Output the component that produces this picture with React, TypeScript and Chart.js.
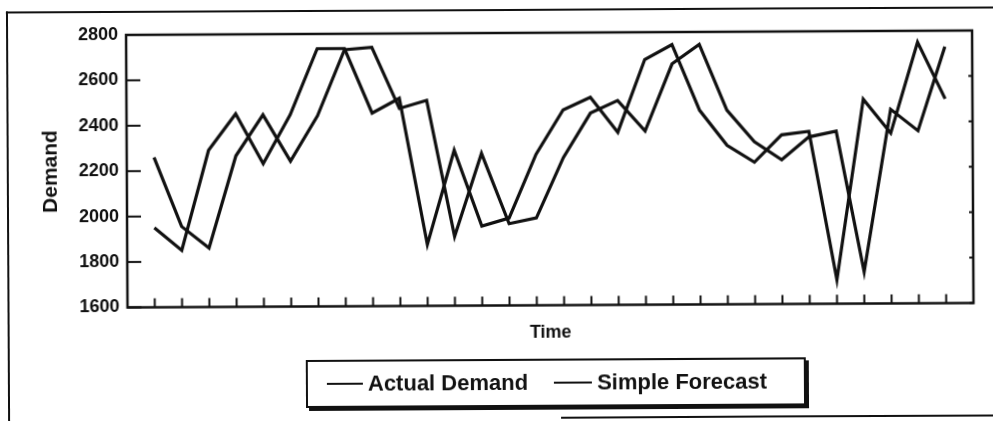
import React, { useEffect, useRef } from "react";
import { Chart, registerables } from "chart.js";

Chart.register(...registerables);

const periods = [1, 2, 3, 4, 5, 6, 7, 8, 9, 10, 11, 12, 13, 14, 15, 16, 17, 18, 19, 20, 21, 22, 23, 24, 25, 26, 27, 28, 29, 30];
const actualDemand = [1950, 1850, 2290, 2450, 2230, 2445, 2735, 2735, 2450, 2515, 1870, 2285, 1950, 1985, 2265, 2460, 2515, 2360, 2680, 2745, 2455, 2300, 2225, 2345, 2360, 1705, 2500, 2350, 2750, 2500];
const simpleForecast = [2260, 1955, 1860, 2265, 2445, 2240, 2440, 2730, 2740, 2470, 2505, 1905, 2270, 1960, 1985, 2250, 2445, 2500, 2365, 2660, 2745, 2455, 2315, 2235, 2335, 2360, 1740, 2455, 2360, 2730];
const yTicks = [1600, 1800, 2000, 2200, 2400, 2600, 2800];
const seriesNames = ["Actual Demand", "Simple Forecast"];

const FONT = "'Liberation Sans', Arial, Helvetica, sans-serif";
const INK = "#111";

const frameAndTicks = {
  id: "frameAndTicks",
  afterDatasetsDraw(chart: any) {
    const { ctx, chartArea, scales } = chart;
    const { left, top, right, bottom } = chartArea;
    const x = scales.x;
    const y = scales.y;
    ctx.save();
    ctx.strokeStyle = INK;
    ctx.lineWidth = 2.5;
    ctx.strokeRect(left, top, right - left, bottom - top);
    ctx.lineWidth = 2;
    periods.forEach((p) => {
      const px = x.getPixelForValue(p);
      ctx.beginPath();
      ctx.moveTo(px, bottom);
      ctx.lineTo(px, bottom - 9);
      ctx.stroke();
    });
    yTicks.forEach((v) => {
      const py = y.getPixelForValue(v);
      ctx.beginPath();
      ctx.moveTo(left, py);
      ctx.lineTo(left + 14, py);
      ctx.stroke();
      ctx.beginPath();
      ctx.moveTo(right, py);
      ctx.lineTo(right - 4, py);
      ctx.stroke();
    });
    ctx.restore();
  },
};

export default function App() {
  const canvasRef = useRef<HTMLCanvasElement | null>(null);

  useEffect(() => {
    if (!canvasRef.current) return;
    const lineStyle = {
      borderColor: INK,
      borderWidth: 3.2,
      pointRadius: 0,
      tension: 0,
      borderJoinStyle: "miter" as const,
      fill: false,
    };
    const chart = new Chart(canvasRef.current, {
      type: "line",
      data: {
        datasets: [
          { label: seriesNames[0], data: periods.map((p, i) => ({ x: p, y: actualDemand[i] })), ...lineStyle },
          { label: seriesNames[1], data: periods.map((p, i) => ({ x: p, y: simpleForecast[i] })), ...lineStyle },
        ],
      },
      options: {
        responsive: false,
        animation: false,
        events: [],
        layout: { padding: { left: 20, top: 33, right: 20, bottom: 75.5 } },
        plugins: {
          legend: { display: false },
          tooltip: { enabled: false },
        },
        scales: {
          x: {
            type: "linear",
            min: 0,
            max: 31,
            grid: { display: false, drawTicks: false },
            border: { display: false },
            ticks: { display: false },
            title: {
              display: true,
              text: "Time",
              color: INK,
              font: { family: FONT, size: 18, weight: "bold" },
              padding: { top: 0, bottom: 2 },
            },
            afterFit: (scale: any) => {
              scale.height = 40;
            },
          },
          y: {
            min: 1600,
            max: 2800,
            afterBuildTicks: (scale: any) => {
              scale.ticks = yTicks.map((v) => ({ value: v }));
            },
            grid: { display: false, drawTicks: false },
            border: { display: false },
            ticks: {
              color: INK,
              padding: 8,
              font: { family: FONT, size: 18, weight: "bold" },
              callback: (v: any) => String(v),
            },
            title: {
              display: true,
              text: "Demand",
              color: INK,
              font: { family: FONT, size: 21, weight: "bold" },
              padding: { top: 19, bottom: 0 },
            },
            afterFit: (scale: any) => {
              scale.width = 107;
            },
          },
        },
      },
      plugins: [frameAndTicks],
    });
    return () => chart.destroy();
  }, []);

  const sample = (w: number, gapAfter: number) => (
    <div style={{ width: w, height: 2, background: INK, marginRight: gapAfter, flex: "none" }} />
  );

  return (
    <div style={{ position: "fixed", left: 0, top: 0, width: 993, height: 421, background: "#fff", overflow: "hidden" }}>
      <div style={{ position: "absolute", left: 0, top: 0, width: 993, height: 421, transform: "rotate(-0.3deg)", transformOrigin: "496px 210px" }}>
        <div style={{ position: "absolute", left: 7, top: 9, width: 1100, height: 430, borderLeft: `2px solid ${INK}`, borderTop: `2px solid ${INK}` }} />
        <div style={{ position: "absolute", left: 560, top: 417, width: 440, height: 2, background: INK }} />
        <canvas ref={canvasRef} width={993} height={421} style={{ position: "absolute", left: 0, top: 0 }} />
        <div
          style={{
            position: "absolute",
            left: 305,
            top: 359,
            width: 496,
            height: 44,
            border: `2px solid ${INK}`,
            boxShadow: `3px 3px 0 ${INK}`,
            display: "flex",
            alignItems: "center",
            justifyContent: "flex-start",
            paddingLeft: 0,
            fontFamily: FONT,
            fontWeight: "bold",
            fontSize: 22,
            color: INK,
            boxSizing: "content-box",
            whiteSpace: "nowrap",
          }}
        >
          <div style={{ width: 19, flex: "none" }} />
          {sample(36, 5)}
          <span style={{ flex: "none" }}>{seriesNames[0]}</span>
          <div style={{ width: 26, flex: "none" }} />
          {sample(38, 5)}
          <span style={{ flex: "none" }}>{seriesNames[1]}</span>
        </div>
      </div>
    </div>
  );
}
